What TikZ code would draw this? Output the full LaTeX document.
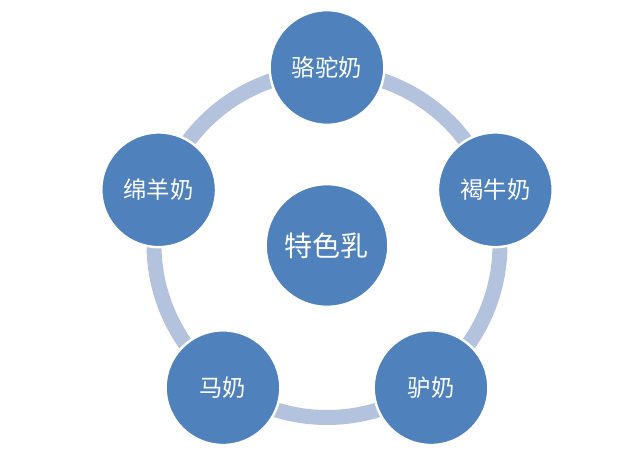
\documentclass[tikz,border=0pt]{standalone}
\usepackage{fontspec}
\newfontfamily\cjk{Noto Sans CJK SC}
\usetikzlibrary{backgrounds}
\definecolor{discblue}{RGB}{79,129,189}
\definecolor{ringblue}{RGB}{179,195,222}
\tikzset{
  % outer milk circles
  milkdisc/.style={
    circle,
    fill=discblue,
    draw=white,
    line width=1.8pt,
    minimum size=86pt,
    inner sep=0pt,
    text=white,
    font=\cjk\fontsize{17.5}{20}\selectfont,
  },
  % centre circle
  hubdisc/.style={milkdisc, minimum size=92pt, font=\cjk\fontsize{21}{24}\selectfont},
  ringline/.style={draw=ringblue, line width=11.25pt},
}

\begin{document}
\begin{tikzpicture}[x=0.75pt, y=0.75pt]
  \useasboundingbox (-327,-214.5) rectangle (313,244.5);

  \node[hubdisc] (hub) at (0,-1) {特色乳};
  \node[milkdisc] (camel) at (90:177) {骆驼奶};
  \node[milkdisc] (yak) at (18:177) {褐牛奶};
  \node[milkdisc] (donkey) at (-54:177) {驴奶};
  \node[milkdisc] (horse) at (-126:177) {马奶};
  \node[milkdisc] (sheep) at (162:177) {绵羊奶};

  % ring behind the outer circles
  \begin{pgfonlayer}{background}
    \draw[ringline] (hub.center) ++(0,1) circle[radius=173];
  \end{pgfonlayer}
\end{tikzpicture}
\end{document}
